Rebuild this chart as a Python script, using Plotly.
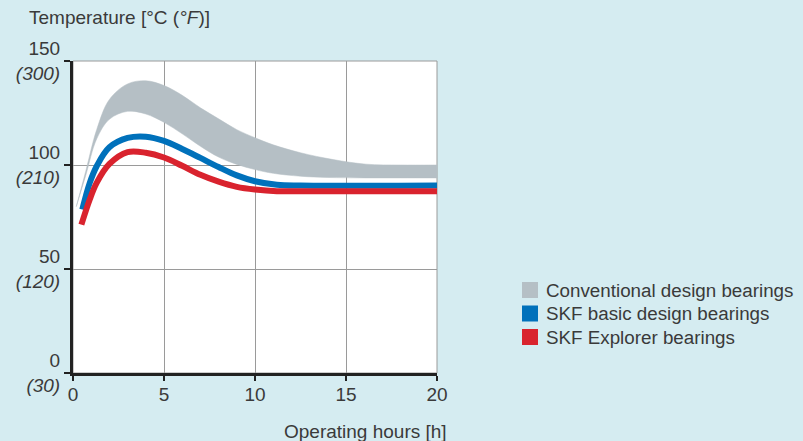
import plotly.graph_objects as go

# ---- data ----
band_upper_x = [0.18, 0.7, 1.3, 2.0, 3.0, 4.0, 5.0, 6.0, 7.0, 8.0, 9.0, 10.0, 11.0, 12.5, 14.3, 16.1, 18.0, 20]
band_upper_y = [80, 97, 117, 131.5, 139, 140.5, 138.2, 133.5, 127.5, 122.2, 117, 113.1, 109.7, 105.9, 102.6, 100.4, 100, 100]
band_lower_x = [0.18, 0.7, 1.3, 2.0, 3.0, 4.0, 5.0, 6.0, 7.0, 8.0, 9.0, 10.0, 11.0, 12.5, 14.0, 16.0, 18.0, 20]
band_lower_y = [80, 95, 112.5, 122, 125.8, 124.5, 120.5, 115, 109, 103.8, 100.3, 97.8, 96, 94.6, 94, 93.8, 93.8, 93.8]

basic_x = [0.51, 0.92, 1.3, 2.0, 3.0, 4.0, 5.0, 6.0, 7.0, 8.0, 9.0, 10.0, 11.2, 12.5, 20]
basic_y = [78.6, 91.4, 99.4, 108.5, 113, 113.6, 111.6, 107.7, 103.4, 99, 95, 92.2, 90.5, 90.1, 90.1]

explorer_x = [0.46, 0.92, 1.3, 2.0, 3.0, 4.0, 5.0, 6.0, 7.0, 8.0, 9.0, 10.0, 11.2, 12.5, 20]
explorer_y = [71.3, 83.4, 91.4, 100.5, 106.2, 105.9, 103.6, 99.6, 95.3, 92, 89.5, 88.2, 87.4, 87.4, 87.4]

x_ticks = [0, 5, 10, 15, 20]
y_ticks = [0, 50, 100, 150]
y_tick_c = ["0", "50", "100", "150"]
y_tick_f = ["(30)", "(120)", "(210)", "(300)"]

legend_names = ["Conventional design bearings", "SKF basic design bearings", "SKF Explorer bearings"]
GRAY = "#b5bfc5"
BLUE = "#0071bb"
RED = "#d9232e"
legend_colors = [GRAY, BLUE, RED]

TXT = "#3a3a3a"
FONT = "Liberation Sans, Arial, sans-serif"
BG = "#d5ecf1"
SM = 1.0

fig = go.Figure()

# gray band: lower edge, then upper edge filled down to it
fig.add_trace(go.Scatter(
    x=band_lower_x, y=band_lower_y, mode="lines",
    line=dict(color=GRAY, width=0.5, shape="spline", smoothing=SM),
    showlegend=False, hoverinfo="skip"))
fig.add_trace(go.Scatter(
    x=band_upper_x, y=band_upper_y, mode="lines", fill="tonexty", fillcolor=GRAY,
    line=dict(color=GRAY, width=0.5, shape="spline", smoothing=SM),
    showlegend=False, hoverinfo="skip"))

fig.add_trace(go.Scatter(x=basic_x, y=basic_y, mode="lines",
                         line=dict(color=BLUE, width=6, shape="spline", smoothing=SM),
                         showlegend=False))
fig.add_trace(go.Scatter(x=explorer_x, y=explorer_y, mode="lines",
                         line=dict(color=RED, width=6, shape="spline", smoothing=SM),
                         showlegend=False))

fig.update_layout(
    width=803, height=441,
    margin=dict(l=73, r=366, t=61, b=68),
    paper_bgcolor=BG, plot_bgcolor="white",
    font=dict(family=FONT, size=19, color=TXT),
    showlegend=False,
)

fig.update_xaxes(
    range=[0, 20], tickvals=x_ticks, ticktext=[str(v) for v in x_ticks],
    showgrid=True, gridcolor="#9a9a9a", gridwidth=1,
    showline=True, linecolor="#222", linewidth=3,
    ticks="outside", ticklen=5, tickwidth=2, tickcolor="#222",
    zeroline=False, tickfont=dict(size=19, color=TXT), ticklabelstandoff=-3,
)
fig.update_yaxes(
    range=[0, 150], tickvals=y_ticks,
    ticktext=[f"{c}<br><i>{f}</i>" for c, f in zip(y_tick_c, y_tick_f)],
    showgrid=True, gridcolor="#9a9a9a", gridwidth=1,
    showline=True, linecolor="#222", linewidth=3,
    ticks="outside", ticklen=6, tickwidth=2, tickcolor="#222",
    zeroline=False, tickfont=dict(size=19, color=TXT),
)

# top/right thin border
fig.add_shape(type="rect", xref="paper", yref="paper", x0=0, y0=0, x1=1, y1=1,
              line=dict(color="#9a9a9a", width=1), layer="below")

# titles
fig.add_annotation(text="Temperature [°C (<i>°F</i>)]", xref="paper", yref="paper",
                   x=-0.126, y=1.138, xanchor="left", yanchor="middle", showarrow=False,
                   font=dict(size=19, color=TXT))
fig.add_annotation(text="Operating hours [h]", xref="paper", yref="paper",
                   x=1.032, y=-0.189, xanchor="right", yanchor="middle", showarrow=False,
                   font=dict(size=19, color=TXT))

# legend (manual)
pw = 803 - 73 - 366
ph = 441 - 61 - 68
for i, (name, col) in enumerate(zip(legend_names, legend_colors)):
    cy = 290 + i * 23.5
    yp = (441 - 68 - cy) / ph
    x0 = (522 - 73) / pw
    x1 = (538 - 73) / pw
    h = 8 / ph
    fig.add_shape(type="rect", xref="paper", yref="paper", x0=x0, x1=x1, y0=yp - h, y1=yp + h,
                  fillcolor=col, line=dict(width=0))
    fig.add_annotation(text=name, xref="paper", yref="paper", x=(544 - 73) / pw, y=yp,
                       xanchor="left", yanchor="middle", showarrow=False,
                       font=dict(size=18.8, color=TXT))

fig.write_html("out.html", config={"displayModeBar": False},
               post_script="document.body.style.margin='0';")
